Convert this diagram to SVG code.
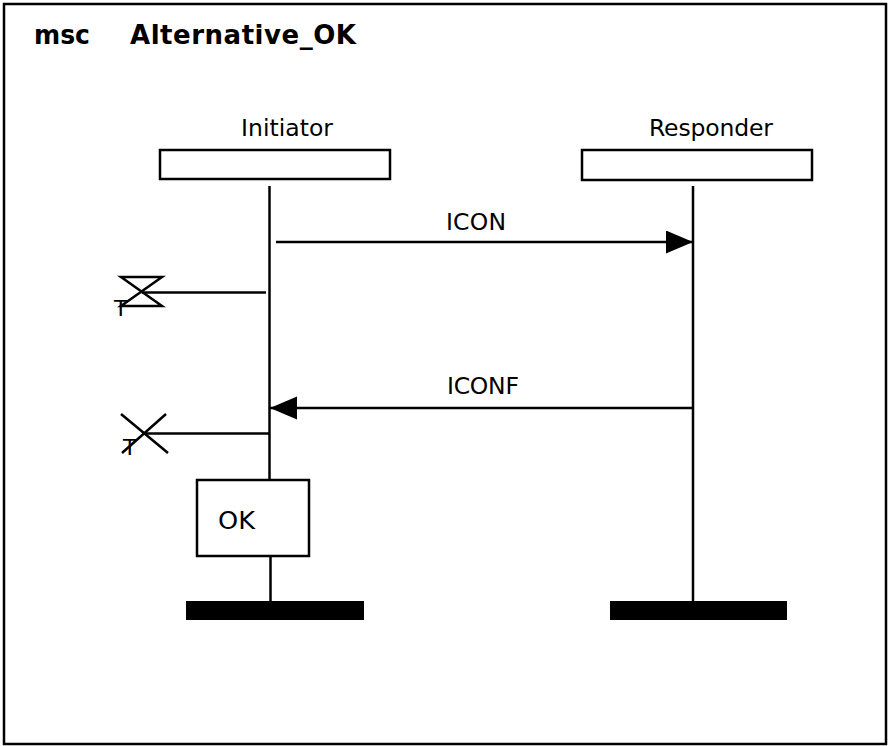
<svg xmlns="http://www.w3.org/2000/svg" width="889" height="746" viewBox="0 0 889 746">
  <style>
    .ln { stroke: #000; stroke-width: 2.5; fill: none; }
    .box { stroke: #000; stroke-width: 2.5; fill: #fff; }
    .bar { fill: #000; stroke: none; }
    text { font-family: "DejaVu Sans", Verdana, sans-serif; fill: #000; }
    .title { font-weight: bold; font-size: 26px; }
    .lbl { font-size: 23.5px; }
    .tmr { font-size: 22px; }
  </style>
  <defs>
    <marker id="arrow" markerUnits="userSpaceOnUse" markerWidth="28" markerHeight="24" refX="27" refY="11.5" orient="auto">
      <path d="M0,0 L27,11.5 L0,23 Z" fill="#000"/>
    </marker>
  </defs>

  <rect x="0" y="0" width="889" height="746" fill="#fff"/>
  <!-- chart frame -->
  <rect class="ln" x="4" y="4" width="882" height="740"/>
  <text class="title" x="34" y="44" textLength="56" lengthAdjust="spacingAndGlyphs">msc</text>
  <text class="title" x="130" y="44" textLength="226" lengthAdjust="spacing">Alternative_OK</text>

  <!-- instance: Initiator -->
  <g id="initiator">
    <text class="lbl" x="241" y="136" textLength="92" lengthAdjust="spacing">Initiator</text>
    <rect class="box" x="160" y="150" width="230" height="29"/>
    <line class="ln" x1="269.5" y1="186" x2="269.5" y2="480"/>
    <line class="ln" x1="270.5" y1="556" x2="270.5" y2="601"/>
    <rect class="bar" x="186" y="601" width="178" height="19"/>
  </g>

  <!-- instance: Responder -->
  <g id="responder">
    <text class="lbl" x="649" y="136" textLength="124" lengthAdjust="spacing">Responder</text>
    <rect class="box" x="582" y="150" width="230" height="30"/>
    <line class="ln" x1="693" y1="186" x2="693" y2="601"/>
    <rect class="bar" x="610" y="601" width="177" height="19"/>
  </g>

  <!-- condition OK -->
  <g id="cond-ok">
    <rect class="box" x="197" y="480" width="112" height="76"/>
    <text class="lbl" x="218" y="529" style="font-size:25px" textLength="37" lengthAdjust="spacingAndGlyphs">OK</text>
  </g>

  <!-- timer set -->
  <g id="timer-set">
    <path class="ln" d="M121,277 H162 L121,306 H162 Z"/>
    <line class="ln" x1="142" y1="292.5" x2="266" y2="292.5"/>
    <text class="tmr" x="114" y="316">T</text>
  </g>

  <!-- timer timeout -->
  <g id="timer-timeout">
    <line class="ln" x1="121" y1="414" x2="168" y2="453"/>
    <line class="ln" x1="166" y1="414" x2="122" y2="453"/>
    <line class="ln" x1="145" y1="433.5" x2="270" y2="433.5"/>
    <text class="tmr" x="123" y="455">T</text>
  </g>

  <!-- messages -->
  <g id="connectors">
    <line class="ln" x1="276" y1="242" x2="693" y2="242" marker-end="url(#arrow)"/>
    <text class="lbl" x="446" y="230" textLength="60" lengthAdjust="spacing">ICON</text>
    <line class="ln" x1="693" y1="408" x2="270" y2="408" marker-end="url(#arrow)"/>
    <text class="lbl" x="447" y="394" textLength="72" lengthAdjust="spacing">ICONF</text>
  </g>
</svg>
